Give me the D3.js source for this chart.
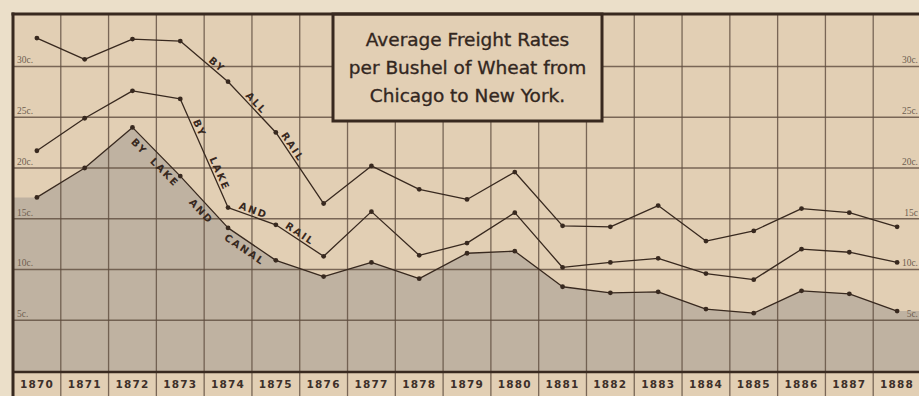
<!DOCTYPE html>
<html>
<head>
<meta charset="utf-8">
<script src="https://cdn.jsdelivr.net/npm/d3@7/dist/d3.min.js"></script>
<style>
  html, body { margin: 0; padding: 0; background: #ebdfc9; }
  svg { display: block; }
</style>
</head>
<body>
<svg id="chart" width="919" height="396"></svg>
<script>
// Average freight rates (cents per bushel of wheat), Chicago to New York
const years = ["1870","1871","1872","1873","1874","1875","1876","1877","1878","1879",
               "1880","1881","1882","1883","1884","1885","1886","1887","1888"];
const allRail   = [32.8,30.7,32.7,32.5,28.5,23.5,16.5,20.2,17.9,16.9,19.6,14.3,14.2,16.3,12.8,13.8,16.0,15.6,14.2];
const lakeRail  = [21.7,24.9,27.6,26.8,16.1,14.4,11.3,15.7,11.4,12.6,15.6,10.2,10.7,11.1,9.6,9.0,12.0,11.7,10.7];
const lakeCanal = [17.1,20.0,24.0,19.2,14.1,10.9,9.3,10.7,9.1,11.6,11.8,8.3,7.7,7.8,6.1,5.7,7.9,7.6,5.9];
const centTicks = [5,10,15,20,25,30];
const tickLabelsLeft  = ["5c.","10c.","15c.","20c.","25c.","30c."];
const tickLabelsRight = ["5c.","10c.","15c","20c.","25c.","30c."];
const titleLines = ["Average Freight Rates","per Bushel of Wheat from","Chicago to New York."];

// Words printed along each route line: segment start year, fraction along segment, side
const routeWords = [
  {series: "allRail",   year: "1873", t: 0.69, word: "BY",    side: "above"},
  {series: "allRail",   year: "1874", t: 0.50, word: "ALL",   side: "above"},
  {series: "allRail",   year: "1875", t: 0.25, word: "RAIL",  side: "above"},
  {series: "lakeRail",  year: "1873", t: 0.29, word: "BY",    side: "above"},
  {series: "lakeRail",  year: "1873", t: 0.71, word: "LAKE",  side: "above"},
  {series: "lakeRail",  year: "1874", t: 0.49, word: "AND",   side: "above"},
  {series: "lakeRail",  year: "1875", t: 0.44, word: "RAIL",  side: "above"},
  {series: "lakeCanal", year: "1872", t: 0.27, word: "BY",    side: "below"},
  {series: "lakeCanal", year: "1872", t: 0.80, word: "LAKE",  side: "below"},
  {series: "lakeCanal", year: "1873", t: 0.57, word: "AND",   side: "below"},
  {series: "lakeCanal", year: "1874", t: 0.45, word: "CANAL", side: "below"}
];

const seriesMap = {allRail, lakeRail, lakeCanal};

const W = 919, H = 396;
const frameL = 13, frameR = 921, frameT = 14, frameB = 372;

const ink = "#38291f";
const paper = "#e2cfb4";
const shade = "#bfb2a1";
const grid = "#5f4d3f";

const svg = d3.select("#chart");

const x = d3.scaleBand().domain(years).range([frameL, frameR]).paddingInner(0).paddingOuter(0);
const y = d3.scaleLinear().domain([0, 35.17]).range([frameB - 1, frameT]);
const cx = d => x(d) + x.bandwidth() / 2;

// paper inside the frame
svg.append("rect").attr("x", frameL).attr("y", frameT).attr("width", frameR - frameL).attr("height", H - frameT)
  .attr("fill", paper);

// shaded lake-and-canal area, carried to both frame edges
const areaPts = [{px: frameL, v: lakeCanal[0]}]
  .concat(years.map((yr, i) => ({px: cx(yr), v: lakeCanal[i]})))
  .concat([{px: frameR, v: lakeCanal[lakeCanal.length - 1]}]);
svg.append("path")
  .datum(areaPts)
  .attr("d", d3.area().x(d => d.px).y0(y(0)).y1(d => y(d.v)))
  .attr("fill", shade);

// horizontal rules at every 5 cents
svg.append("g").selectAll("line").data(centTicks).join("line")
  .attr("x1", frameL).attr("x2", frameR)
  .attr("y1", d => y(d)).attr("y2", d => y(d))
  .attr("stroke", grid).attr("stroke-width", 1.3).attr("opacity", 0.8);

// vertical rules between the years (also dividing the label row)
svg.append("g").selectAll("line").data(years.slice(1)).join("line")
  .attr("x1", d => x(d)).attr("x2", d => x(d))
  .attr("y1", frameT).attr("y2", H)
  .attr("stroke", grid).attr("stroke-width", 1.3).attr("opacity", 0.8);

// cent labels on both sides
const lbl = svg.append("g")
  .attr("font-family", "'Liberation Serif', serif").attr("font-size", 9.5)
  .attr("fill", "#6e5e50");
lbl.selectAll("text.l").data(centTicks).join("text").attr("class", "l")
  .attr("x", frameL + 4).attr("y", d => y(d) - 3)
  .text((d, i) => tickLabelsLeft[i]);
lbl.selectAll("text.r").data(centTicks).join("text").attr("class", "r")
  .attr("x", W - 1).attr("y", d => y(d) - 3).attr("text-anchor", "end")
  .text((d, i) => tickLabelsRight[i]);

// route lines with their yearly points
const line = d3.line().x((d, i) => cx(years[i])).y(d => y(d));
[allRail, lakeRail, lakeCanal].forEach(vals => {
  svg.append("path").datum(vals).attr("d", line)
    .attr("fill", "none").attr("stroke", ink).attr("stroke-width", 1.3)
    .attr("stroke-linejoin", "round");
  svg.append("g").selectAll("circle").data(vals).join("circle")
    .attr("cx", (d, i) => cx(years[i])).attr("cy", d => y(d))
    .attr("r", 2.4).attr("fill", ink);
});

// route names lettered along the lines
const words = svg.append("g")
  .attr("font-family", "'DejaVu Sans', sans-serif").attr("font-size", 10)
  .attr("font-weight", "bold").attr("letter-spacing", 1.8).attr("fill", ink);
routeWords.forEach(w => {
  const vals = seriesMap[w.series];
  const i = years.indexOf(w.year);
  const x0 = cx(years[i]), y0 = y(vals[i]);
  const x1 = cx(years[i + 1]), y1 = y(vals[i + 1]);
  const px = x0 + (x1 - x0) * w.t, py = y0 + (y1 - y0) * w.t;
  const ang = Math.atan2(y1 - y0, x1 - x0) * 180 / Math.PI;
  words.append("text")
    .attr("transform", `translate(${px},${py}) rotate(${ang})`)
    .attr("text-anchor", "middle")
    .attr("dy", w.side === "above" ? -2.5 : 12)
    .text(w.word);
});

// title panel
const tb = {x0: 333, x1: 602, y1: 121};
svg.append("rect").attr("x", tb.x0).attr("y", frameT).attr("width", tb.x1 - tb.x0).attr("height", tb.y1 - frameT)
  .attr("fill", paper).attr("stroke", ink).attr("stroke-width", 3);
svg.append("g").selectAll("text").data(titleLines).join("text")
  .attr("x", (tb.x0 + tb.x1) / 2).attr("y", (d, i) => 46 + i * 28)
  .attr("text-anchor", "middle")
  .attr("font-family", "'DejaVu Sans', sans-serif").attr("font-size", 18.5)
  .attr("fill", "#33271f").attr("stroke", "#33271f").attr("stroke-width", 0.35)
  .text(d => d);

// frame
svg.append("line").attr("x1", frameL).attr("x2", frameL).attr("y1", frameT - 1.5).attr("y2", H)
  .attr("stroke", ink).attr("stroke-width", 3);
svg.append("line").attr("x1", frameL - 1.5).attr("x2", W).attr("y1", frameT).attr("y2", frameT)
  .attr("stroke", ink).attr("stroke-width", 3);
svg.append("line").attr("x1", frameL).attr("x2", W).attr("y1", frameB).attr("y2", frameB)
  .attr("stroke", ink).attr("stroke-width", 2.5);

// year labels
svg.append("g").selectAll("text").data(years).join("text")
  .attr("x", d => cx(d)).attr("y", 388)
  .attr("text-anchor", "middle")
  .attr("font-family", "'DejaVu Sans', sans-serif").attr("font-weight", "bold")
  .attr("font-size", 10.5).attr("letter-spacing", 1.2)
  .attr("fill", "#3d302a")
  .text(d => d);
</script>
</body>
</html>
